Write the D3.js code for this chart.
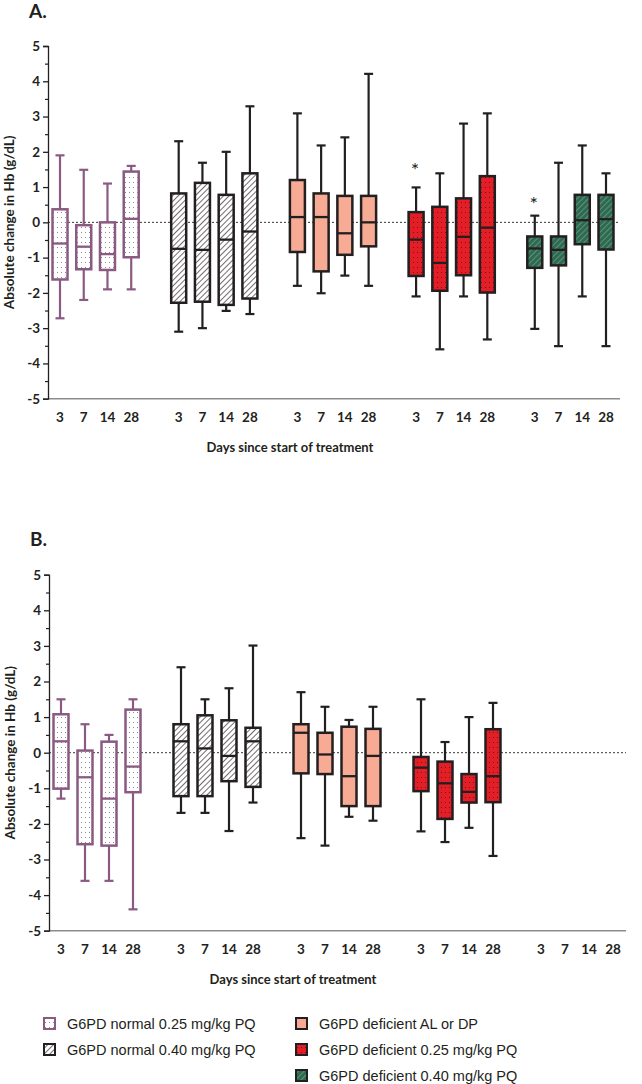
<!DOCTYPE html>
<html><head><meta charset="utf-8">
<script src="https://cdn.jsdelivr.net/npm/d3@7"></script>
<style>
body{margin:0;background:#fff;}
svg{display:block;}
.lbl{font-family:Lato,"Open Sans",sans-serif;font-weight:700;fill:#231f20;}
.leg{font-family:"Liberation Sans",Arial,sans-serif;fill:#231f20;}
</style></head>
<body>
<script>
// ---- data ----
const groups = ["G6PD normal 0.25 mg/kg PQ","G6PD normal 0.40 mg/kg PQ","G6PD deficient AL or DP","G6PD deficient 0.25 mg/kg PQ","G6PD deficient 0.40 mg/kg PQ"];
const days = ["3","7","14","28"];
const yTicks = [-5,-4,-3,-2,-1,0,1,2,3,4,5];

// Panel A (per group, per day)
const aMin = [-2.72,-2.2,-1.9,-1.9,  -3.1,-3.0,-2.51,-2.6,  -1.8,-2.01,-1.51,-1.8,  -2.1,-3.6,-2.1,-3.32,  -3.02,-3.51,-2.1,-3.51];
const aQ1  = [-1.62,-1.33,-1.35,-0.99, -2.28,-2.25,-2.34,-2.16, -0.84,-1.39,-0.92,-0.68, -1.52,-1.94,-1.5,-1.99, -1.29,-1.22,-0.62,-0.77];
const aMed = [-0.6,-0.69,-0.9,0.1,  -0.75,-0.78,-0.49,-0.26,  0.15,0.15,-0.31,0.0,  -0.49,-1.15,-0.41,-0.15,  -0.74,-0.78,0.06,0.09];
const aQ3  = [0.37,-0.08,0.0,1.44,  0.82,1.12,0.78,1.39,  1.2,0.82,0.75,0.75,  0.29,0.44,0.68,1.31,  -0.4,-0.4,0.78,0.78];
const aMax = [1.9,1.49,1.1,1.6,  2.3,1.69,2.0,3.29,  3.09,2.18,2.41,4.21,  0.99,1.39,2.8,3.09,  0.19,1.69,2.18,1.39];
const aStars = [[3,0,1.62],[4,0,0.66]]; // [group, dayIndex, value position]

// Panel B
const bMin = [-1.29,-3.6,-3.6,-4.4,  -1.69,-1.69,-2.2,-1.4,  -2.4,-2.61,-1.8,-1.91,  -2.21,-2.51,-2.11,-2.9,  null,null,null,null];
const bQ1  = [-1.01,-2.57,-2.61,-1.11, -1.22,-1.22,-0.8,-0.96, -0.58,-0.6,-1.5,-1.5, -1.08,-1.86,-1.4,-1.39, null,null,null,null];
const bMed = [0.32,-0.69,-1.29,-0.39,  0.32,0.12,-0.09,0.32,  0.56,-0.05,-0.66,-0.09,  -0.42,-0.86,-1.1,-0.66,  null,null,null,null];
const bQ3  = [1.08,0.06,0.31,1.21,  0.8,1.05,0.91,0.7,  0.8,0.56,0.73,0.67,  -0.12,-0.25,-0.6,0.66,  null,null,null,null];
const bMax = [1.5,0.8,0.5,1.5,  2.4,1.5,1.81,3.01,  1.7,1.29,0.92,1.29,  1.5,0.3,1.0,1.4,  null,null,null,null];

// ---- styles ----
const stroke = ["#8a5a82","#231f20","#231f20","#231f20","#231f20"];
const fills = ["url(#dotW)","url(#hatchW)","#f7ab94","url(#dotR)","url(#hatchG)"];

const W = 642, H = 1084;
const svg = d3.select("body").append("svg").attr("width",W).attr("height",H);
const defs = svg.append("defs");

function dotPattern(id,bg,dot){
  const p = defs.append("pattern").attr("id",id).attr("patternUnits","userSpaceOnUse").attr("width",4).attr("height",5);
  p.append("rect").attr("width",4).attr("height",5).attr("fill",bg);
  p.append("rect").attr("x",1).attr("y",2).attr("width",1).attr("height",1).attr("fill",dot);
}
function hatchPattern(id,bg,line){
  const p = defs.append("pattern").attr("id",id).attr("patternUnits","userSpaceOnUse").attr("width",4).attr("height",4)
    .attr("patternTransform","rotate(45)");
  p.append("rect").attr("width",4).attr("height",4).attr("fill",bg);
  p.append("line").attr("x1",0).attr("y1",0).attr("x2",0).attr("y2",4).attr("stroke",line).attr("stroke-width",1.3);
}
dotPattern("dotW","#ffffff","#8f8a8c");
dotPattern("dotR","#e41e26","#7a1016");
hatchPattern("hatchW","#ffffff","#231f20");
hatchPattern("hatchG","#2d6a50","#7aa592");

function panel(cfg){
  const g = svg.append("g");
  const y = d3.scaleLinear().domain([-5,5]).range([cfg.yBot,cfg.yTop]);
  const x = d3.scaleLinear().domain([0,23]).range([cfg.x0,cfg.x1]);
  const slot = (gi,di) => x(gi*5+di);

  g.append("text").attr("class","lbl").attr("x",cfg.axX-19).attr("y",cfg.letterY)
    .attr("font-size",19).text(cfg.letter);

  // zero line
  g.append("line").attr("x1",cfg.axX).attr("x2",cfg.xEnd).attr("y1",y(0)).attr("y2",y(0))
    .attr("stroke","#231f20").attr("stroke-width",0.9).attr("stroke-dasharray","2,2");

  // x axis line
  g.append("line").attr("x1",cfg.axX).attr("x2",cfg.xEnd).attr("y1",y(-5)).attr("y2",y(-5))
    .attr("stroke","#8c8c8c").attr("stroke-width",1.5);

  // y axis
  const ax = g.append("g").attr("transform",`translate(${cfg.axX},0)`)
    .call(d3.axisLeft(y).tickValues(yTicks).tickSize(5).tickPadding(3).tickFormat(d=>String(d)));
  ax.select(".domain").attr("stroke","#231f20").attr("stroke-width",1.3);
  ax.selectAll(".tick line").attr("stroke","#231f20").attr("stroke-width",1.3);
  ax.selectAll("text").attr("class","lbl").attr("font-size",13.5).attr("font-family",null);
  const minors = d3.range(-4.5,5,1);
  g.append("g").attr("transform",`translate(${cfg.axX},0)`)
    .call(d3.axisLeft(y).tickValues(minors).tickSize(3).tickFormat(""))
    .call(s=>{s.select(".domain").remove(); s.selectAll(".tick line").attr("stroke","#231f20").attr("stroke-width",1.2);});

  // y title
  g.append("text").attr("class","lbl").attr("font-size",13.5)
    .attr("transform",`translate(${cfg.axX-34},${y(0)}) rotate(-90)`).attr("text-anchor","middle")
    .text("Absolute change in Hb (g/dL)");

  // x tick labels
  groups.forEach((gn,gi)=>days.forEach((d,di)=>{
    g.append("text").attr("class","lbl").attr("font-size",13.5).attr("text-anchor","middle")
      .attr("x",slot(gi,di)).attr("y",y(-5)+23).text(d);
  }));
  g.append("text").attr("class","lbl").attr("font-size",13).attr("text-anchor","middle")
    .attr("x",cfg.titleX).attr("y",y(-5)+53).text("Days since start of treatment");

  // boxes
  const bw = 15, cap = 9;
  groups.forEach((gn,gi)=>days.forEach((d,di)=>{
    const k = gi*4+di;
    if(cfg.med[k]==null) return;
    const cx = slot(gi,di);
    const col = stroke[gi];
    const bx = g.append("g");
    bx.append("line").attr("x1",cx).attr("x2",cx).attr("y1",y(cfg.max[k])).attr("y2",y(cfg.q3[k]))
      .attr("stroke",col).attr("stroke-width",2.2);
    bx.append("line").attr("x1",cx).attr("x2",cx).attr("y1",y(cfg.q1[k])).attr("y2",y(cfg.min[k]))
      .attr("stroke",col).attr("stroke-width",2.2);
    [cfg.max[k],cfg.min[k]].forEach(v=>bx.append("line").attr("x1",cx-cap/2).attr("x2",cx+cap/2)
      .attr("y1",y(v)).attr("y2",y(v)).attr("stroke",col).attr("stroke-width",2.2));
    bx.append("rect").attr("x",cx-bw/2).attr("width",bw).attr("y",y(cfg.q3[k]))
      .attr("height",y(cfg.q1[k])-y(cfg.q3[k])).attr("fill",fills[gi]).attr("stroke",col).attr("stroke-width",2.5);
    bx.append("line").attr("x1",cx-bw/2).attr("x2",cx+bw/2).attr("y1",y(cfg.med[k])).attr("y2",y(cfg.med[k]))
      .attr("stroke",col).attr("stroke-width",2.3);
  }));

  (cfg.stars||[]).forEach(s=>{
    g.append("text").attr("font-family","Lato, sans-serif").attr("fill","#231f20").attr("font-size",20)
      .style("font-weight","400").attr("text-anchor","middle")
      .attr("x",slot(s[0],s[1])-1).attr("y",y(s[2])+12).text("*");
  });
}

panel({letter:"A.",letterY:18,yTop:46,yBot:398.7,x0:60,x1:606,axX:48,xEnd:620,titleX:290,
  min:aMin,q1:aQ1,med:aMed,q3:aQ3,max:aMax,stars:aStars});
panel({letter:"B.",letterY:546,yTop:574.7,yBot:930.7,x0:61,x1:613,axX:49,xEnd:626,titleX:293,
  min:bMin,q1:bQ1,med:bMed,q3:bQ3,max:bMax});

// legend
const legPos = [[44,1024],[44,1050],[296,1024],[296,1050],[296,1076]];
groups.forEach((gn,gi)=>{
  const [lx,ly] = legPos[gi];
  svg.append("rect").attr("x",lx).attr("y",ly-6).attr("width",11).attr("height",11)
    .attr("fill",fills[gi]).attr("stroke",stroke[gi]).attr("stroke-width",2);
  svg.append("text").attr("class","leg").attr("font-size",14.5).attr("x",lx+23).attr("y",ly+5).text(gn);
});
</script>
</body></html>
